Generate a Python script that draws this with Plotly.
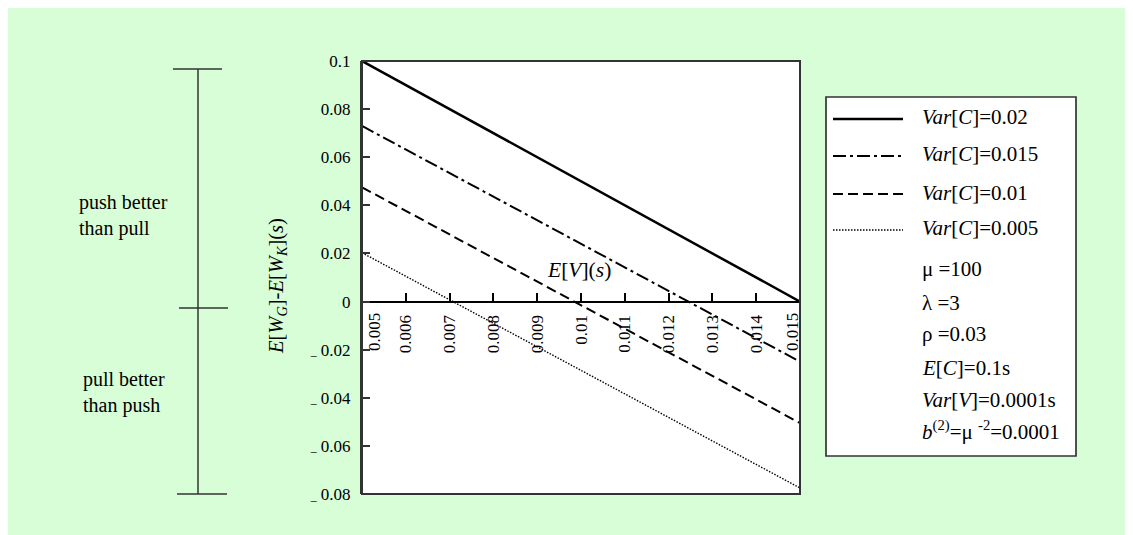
import plotly.graph_objects as go

# ---- data ----
ev = [0.005, 0.015]
var_c_002 = [0.100, 0.000]
var_c_0015 = [0.073, -0.025]
var_c_001 = [0.0475, -0.0505]
var_c_0005 = [0.0203, -0.0775]

series_names = ["<i>Var</i>[<i>C</i>]=0.02", "<i>Var</i>[<i>C</i>]=0.015",
                "<i>Var</i>[<i>C</i>]=0.01", "<i>Var</i>[<i>C</i>]=0.005"]
param_lines = ["μ =100", "λ =3", "ρ =0.03", "<i>E</i>[<i>C</i>]=0.1s",
               "<i>Var</i>[<i>V</i>]=0.0001s", "<i>b</i><sup>(2)</sup>=μ <sup>-2</sup>=0.0001"]

x_tickvals = [0.005, 0.006, 0.007, 0.008, 0.009, 0.010, 0.011, 0.012, 0.013, 0.014, 0.015]
x_ticktext = ["", "0.006", "0.007", "0.008", "0.009", "0.01", "0.011", "0.012", "0.013", "0.014", ""]
y_tickvals = [0.1, 0.08, 0.06, 0.04, 0.02, 0, -0.02, -0.04, -0.06, -0.08]
y_ticktext = ["0.1", "0.08", "0.06", "0.04", "0.02", "0",
              "<sub>–</sub> 0.02", "<sub>–</sub> 0.04", "<sub>–</sub> 0.06", "<sub>–</sub> 0.08"]

# ---- layout geometry (screenshot pixels; page body adds an 8px offset) ----
W, H = 1133, 535
OFF = 8
L, R, T, B = 362, 800, 61, 494
FONT = '"Liberation Serif", "Times New Roman", Times, serif'


def px(x):
    return (x - L) / (R - L)


def py(y):
    return (B - y) / (B - T)


styles = [
    dict(width=2.5, dash="solid"),
    dict(width=2, dash="13px,4px,3px,4px"),
    dict(width=2, dash="10px,5px"),
    dict(width=1.4, dash="1.5px,1.5px"),
]
ys = [var_c_002, var_c_0015, var_c_001, var_c_0005]

fig = go.Figure()
for name, yv, st in zip(series_names, ys, styles):
    fig.add_trace(go.Scatter(x=ev, y=yv, mode="lines", name=name,
                             line=dict(color="black", width=st["width"], dash=st["dash"]),
                             showlegend=False))

shapes = []
# plot frame
shapes.append(dict(type="rect", xref="paper", yref="paper", x0=0, x1=1, y0=0, y1=1,
                   line=dict(color="#333333", width=2), layer="above"))
# left bracket
bk = "#333333"
shapes.append(dict(type="line", xref="paper", yref="paper", x0=px(198), x1=px(198), y0=py(69), y1=py(494),
                   line=dict(color=bk, width=1.5)))
for (xa, xb, yy) in [(173, 222, 69), (179, 228, 308), (177, 227, 494)]:
    shapes.append(dict(type="line", xref="paper", yref="paper", x0=px(xa), x1=px(xb), y0=py(yy), y1=py(yy),
                       line=dict(color=bk, width=1.5)))
# legend box
shapes.append(dict(type="rect", xref="paper", yref="paper", x0=px(826), x1=px(1076), y0=py(456), y1=py(97),
                   fillcolor="white", line=dict(color="#333333", width=1.7)))

rows_series = [119, 156, 194, 230]
rows_text = [117, 154, 193, 228]
TXT = dict(family=FONT, size=21, color="black")
annotations = []
for st, yl, yt, name in zip(styles, rows_series, rows_text, series_names):
    shapes.append(dict(type="line", xref="paper", yref="paper", x0=px(833), x1=px(903), y0=py(yl), y1=py(yl),
                       line=dict(color="black", width=st["width"], dash=st["dash"])))
    annotations.append(dict(xref="paper", yref="paper", x=px(920), y=py(yt), text=name, showarrow=False,
                            xanchor="left", yanchor="middle", font=TXT))
for yt, txt in zip([269, 303, 334, 368, 400, 430], param_lines):
    annotations.append(dict(xref="paper", yref="paper", x=px(920), y=py(yt), text=txt, showarrow=False,
                            xanchor="left", yanchor="middle", font=TXT))

# side labels
for xl, yl, txt in [(77, 215, "push better<br>than pull"), (81, 392, "pull better<br>than push")]:
    annotations.append(dict(xref="paper", yref="paper", x=px(xl), y=py(yl), text=txt, align="left",
                            showarrow=False, xanchor="left", yanchor="middle",
                            font=dict(family=FONT, size=20, color="black")))
# y title
annotations.append(dict(xref="paper", yref="paper", x=px(277), y=py(286),
                        text="<i>E</i>[<i>W</i><sub><i>G</i></sub>]-<i>E</i>[<i>W</i><sub><i>K</i></sub>](<i>s</i>)",
                        showarrow=False, textangle=-90, xanchor="center", yanchor="middle",
                        font=dict(family=FONT, size=20.5, color="black")))
# x title
annotations.append(dict(xref="paper", yref="paper", x=px(579), y=py(270),
                        text="<i>E</i>[<i>V</i>](<i>s</i>)", showarrow=False, xanchor="center", yanchor="middle",
                        font=dict(family=FONT, size=21.5, color="black")))
# first and last x tick labels (kept inside the frame)
for xc, txt in [(374, "0.005"), (792, "0.015")]:
    annotations.append(dict(xref="paper", yref="paper", x=px(xc), y=py(311), text=txt, showarrow=False,
                            textangle=-90, xanchor="center", yanchor="top",
                            font=dict(family=FONT, size=17, color="black")))

fig.update_layout(
    width=W, height=H, autosize=False,
    margin=dict(l=L - OFF, r=W - (R - OFF), t=T - OFF, b=H - (B - OFF), pad=0),
    paper_bgcolor="#D7FED7", plot_bgcolor="white",
    showlegend=False,
    shapes=shapes, annotations=annotations,
    xaxis=dict(range=[0.005, 0.015], tickvals=x_tickvals, ticktext=x_ticktext, tickangle=-90,
               anchor="free", position=0.08 / 0.18, showline=True, linecolor="black", linewidth=1.5,
               ticks="inside", ticklen=8, tickwidth=1.5, tickcolor="black", showgrid=False, zeroline=False,
               ticklabelstandoff=6,
               tickfont=dict(family=FONT, size=17, color="black")),
    yaxis=dict(range=[-0.08, 0.1], tickvals=y_tickvals, ticktext=y_ticktext,
               showline=True, linecolor="#333333", linewidth=2,
               ticks="inside", ticklen=8, tickwidth=1.5, tickcolor="#333333", showgrid=False, zeroline=False,
               ticklabelstandoff=6,
               tickfont=dict(family=FONT, size=17, color="black")),
)

fig.write_html("out.html")
